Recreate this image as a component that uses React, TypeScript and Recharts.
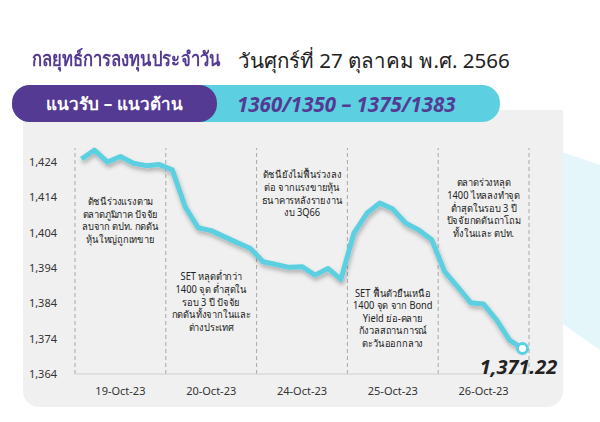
import { ComposedChart, Line, Scatter, XAxis, YAxis, ReferenceLine } from 'recharts';

// SET index, 7 readings per trading day
const dayLabels = ['19-Oct-23', '20-Oct-23', '24-Oct-23', '25-Oct-23', '26-Oct-23'];
const oct19 = [1424.9, 1427.4, 1424.0, 1425.6, 1423.7, 1423.0, 1423.3];
const oct20 = [1421.8, 1411.3, 1405.4, 1404.6, 1402.9, 1401.2, 1399.6];
const oct24 = [1395.8, 1395.0, 1394.2, 1394.4, 1392.0, 1393.9, 1390.8];
const oct25 = [1403.9, 1409.5, 1412.4, 1410.7, 1406.7, 1404.8, 1402.0];
const oct26 = [1393.0, 1388.7, 1384.2, 1383.8, 1379.3, 1373.6, 1371.22];
const yTicks = [1364, 1374, 1384, 1394, 1404, 1414, 1424];

// index level where each day's comment starts
const noteLevels = [1412.8, 1391.5, 1420.4, 1386.9, 1418.1];
const noteLines = [
    ['ดัชนีร่วงแรงตาม', 'ตลาดภูมิภาค ปัจจัย', 'ลบจาก ตปท. กดดัน', 'หุ้นใหญ่ถูกเทขาย'],
    ['SET หลุดต่ำกว่า', '1400 จุด ต่ำสุดใน', 'รอบ 3 ปี ปัจจัย', 'กดดันทั้งจากในและ', 'ต่างประเทศ'],
    ['ดัชนียังไม่ฟื้นร่วงลง', 'ต่อ จากแรงขายหุ้น', 'ธนาคารหลังรายงาน', 'งบ 3Q66'],
    ['SET ฟื้นตัวยืนเหนือ', '1400 จุด จาก Bond', 'Yield ย่อ-คลาย', 'กังวลสถานการณ์', 'ตะวันออกกลาง'],
    ['ตลาดร่วงหลุด', '1400 ไหลลงทำจุด', 'ต่ำสุดในรอบ 3 ปี', 'ปัจจัยกดดันถาโถม', 'ทั้งในและ ตปท.'],
];

const PER_DAY = 7;
const series = [...oct19, ...oct20, ...oct24, ...oct25, ...oct26];
const data = series.map((v, i) => ({ x: i + 0.5, set: v }));
const notes = noteLevels.map((level, i) => ({ x: i * PER_DAY + PER_DAY / 2, level, lines: noteLines[i] }));
const lastIdx = series.length - 1;

const PURPLE = '#553a94';
const CYAN = '#5ccfe0';
const FONT = "'Noto Sans', 'DejaVu Sans', sans-serif";

const fmt = (v: number) => v.toLocaleString('en-US');

const renderNote = (p: any) => {
    const lines: string[] = p.payload?.lines ?? [];
    return (
        <g transform={`translate(${p.cx},${p.cy}) scale(0.93,1)`}>
            <text x={0} y={3.5} textAnchor="middle" fontSize={10} fill="#222" fontFamily={FONT}>
                {lines.map((l, i) => (
                    <tspan key={i} x={0} dy={i === 0 ? 0 : 12.6}>
                        {l}
                    </tspan>
                ))}
            </text>
        </g>
    );
};

const renderDot = (p: any) => {
    if (p.index !== lastIdx) return <g key={p.index} />;
    return (
        <g key={p.index}>
            <circle cx={p.cx} cy={p.cy} r={5} fill="#fff" stroke={CYAN} strokeWidth={3} />
            <text
                x={p.cx - 4}
                y={p.cy + 25}
                textAnchor="middle"
                fontSize={20}
                fontWeight={700}
                fontStyle="italic"
                fill="#222"
                fontFamily={FONT}
            >
                {series[lastIdx].toFixed(2).replace(/\B(?=(\d{3})+(?!\d))/, ',')}
            </text>
        </g>
    );
};

export default function App() {
    return (
        <div style={{ position: 'absolute', left: 0, top: 0, width: 600, height: 422, background: '#fff', overflow: 'hidden', fontFamily: FONT }}>
            <style>{`.recharts-line-curve { filter: url(#lineShadow); }`}</style>
            <svg width={0} height={0} style={{ position: 'absolute' }}>
                <defs>
                    <filter id="lineShadow" x="-10%" y="-20%" width="120%" height="150%">
                        <feDropShadow dx={1} dy={3} stdDeviation={2} floodColor="#000" floodOpacity={0.28} />
                    </filter>
                </defs>
            </svg>

            {/* decorative background shape */}
            <svg width={600} height={422} style={{ position: 'absolute', left: 0, top: 0 }}>
                <polygon points="550,148 600,165 600,350 550,315" fill="#e4f6f9" />
            </svg>

            {/* panel */}
            <div style={{ position: 'absolute', left: 23, top: 110, width: 540, height: 297, background: '#f0f0f0', borderRadius: '0 0 16px 16px' }} />

            {/* title */}
            <div
                style={{
                    position: 'absolute', left: 32, top: 43, fontSize: 20, fontWeight: 700, color: PURPLE, whiteSpace: 'nowrap',
                    transform: 'scaleX(0.83)', transformOrigin: 'left center',
                }}
            >
                กลยุทธ์การลงทุนประจำวัน
            </div>
            <div style={{ position: 'absolute', left: 238, top: 44, fontSize: 20.5, color: '#222', whiteSpace: 'nowrap' }}>
                วันศุกร์ที่ 27 ตุลาคม พ.ศ. 2566
            </div>

            {/* banner */}
            <div style={{ position: 'absolute', left: 12, top: 85, width: 488, height: 37, background: CYAN, borderRadius: 18 }} />
            <div
                style={{
                    position: 'absolute', left: 12, top: 85, width: 205, height: 37, background: PURPLE, borderRadius: 18,
                    color: '#fff', fontSize: 17, fontWeight: 700, display: 'flex', alignItems: 'center', justifyContent: 'center',
                }}
            >
                แนวรับ – แนวต้าน
            </div>
            <div
                style={{
                    position: 'absolute', left: 237, top: 85, height: 37, display: 'flex', alignItems: 'center',
                    color: PURPLE, fontSize: 20.5, fontWeight: 700, fontStyle: 'italic', whiteSpace: 'nowrap',
                }}
            >
                1360/1350 – 1375/1383
            </div>

            <div style={{ position: 'absolute', left: 0, top: 0 }}>
                <ComposedChart width={600} height={422} data={data} margin={{ top: 148, right: 71, bottom: 18, left: 0 }}>
                    <XAxis
                        dataKey="x"
                        type="number"
                        domain={[0, dayLabels.length * PER_DAY]}
                        ticks={dayLabels.map((_, i) => i * PER_DAY + PER_DAY / 2)}
                        tickFormatter={(v: number) => dayLabels[Math.floor(v / PER_DAY)]}
                        tickLine={false}
                        tickSize={0}
                        tickMargin={13}
                        height={30}
                        axisLine={{ stroke: '#cfcfcf' }}
                        tick={{ fontSize: 11, fill: '#333', fontFamily: FONT }}
                    />
                    <YAxis
                        domain={[1364, 1428]}
                        ticks={yTicks}
                        tickFormatter={fmt}
                        width={75}
                        axisLine={false}
                        tickLine={false}
                        tickSize={0}
                        tickMargin={18}
                        tick={{ fontSize: 11, fill: '#333', fontFamily: FONT }}
                    />
                    {dayLabels.map((_, i) => (
                        <ReferenceLine key={i} x={i * PER_DAY} stroke="#a8a8a8" strokeDasharray="4 3" />
                    ))}
                    <ReferenceLine x={dayLabels.length * PER_DAY} stroke="#a8a8a8" strokeDasharray="4 3" />
                    <Scatter data={notes} dataKey="level" shape={renderNote} isAnimationActive={false} />
                    <Line
                        type="linear"
                        dataKey="set"
                        stroke={CYAN}
                        strokeWidth={5}
                        strokeLinejoin="round"
                        dot={renderDot}
                        activeDot={false}
                        isAnimationActive={false}
                    />
                </ComposedChart>
            </div>
        </div>
    );
}
